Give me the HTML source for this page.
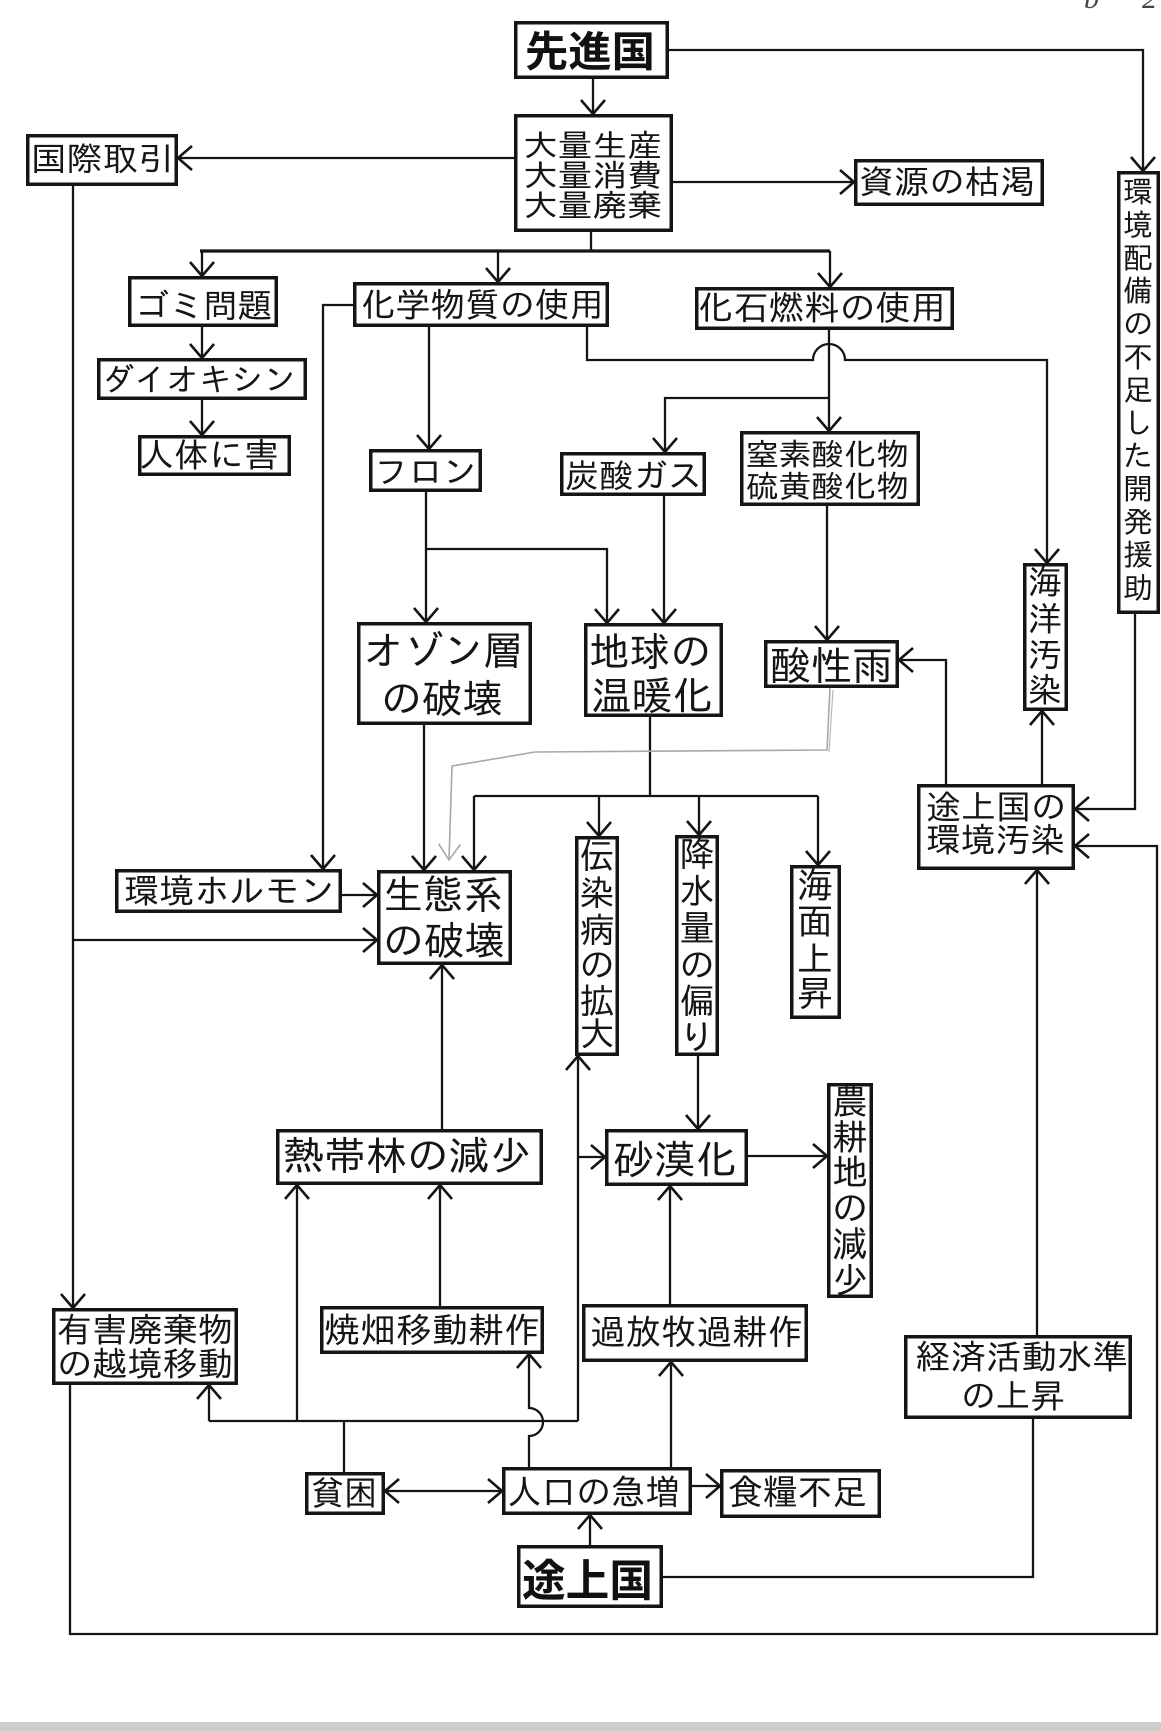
<!DOCTYPE html>
<html><head><meta charset="utf-8">
<style>
html,body{margin:0;padding:0;background:#fff;}
svg{display:block;}
.t{font-family:"IPAGothic","Noto Sans CJK JP",sans-serif;fill:#151515;dominant-baseline:central;}
.b{font-family:"Noto Sans CJK JP","IPAGothic",sans-serif;font-weight:700;fill:#111;dominant-baseline:central;}
.v{font-family:"IPAGothic","Noto Sans CJK JP",sans-serif;fill:#151515;dominant-baseline:central;text-anchor:middle;}
</style></head>
<body>
<svg width="1161" height="1731" viewBox="0 0 1161 1731" xmlns="http://www.w3.org/2000/svg">
<defs>
<marker id="a" markerUnits="userSpaceOnUse" markerWidth="40" markerHeight="40" refX="20" refY="20" orient="auto" viewBox="0 0 40 40">
<path d="M6,8 L20,20 L6,32" fill="none" stroke="#151515" stroke-width="2.6"/>
</marker>
<marker id="g" markerUnits="userSpaceOnUse" markerWidth="40" markerHeight="40" refX="20" refY="20" orient="auto" viewBox="0 0 40 40">
<path d="M4,9 L20,20 L4,31" fill="none" stroke="#a8a8a8" stroke-width="1.6"/>
</marker>
</defs>
<rect x="0" y="0" width="1161" height="1731" fill="#fff"/>

<!-- connectors -->
<g fill="none" stroke="#151515" stroke-width="2.3">
<path d="M593,79 V114" marker-end="url(#a)"/>
<path d="M669,50 H1143 V171" marker-end="url(#a)"/>
<path d="M514,158 H178" marker-end="url(#a)"/>
<path d="M673,182 H854" marker-end="url(#a)"/>
<path d="M591,232 V251"/>
<path d="M200,251 H830" stroke-width="3.2"/>
<path d="M202,251 V276" marker-end="url(#a)"/>
<path d="M498,251 V282" marker-end="url(#a)"/>
<path d="M830,251 V287" marker-end="url(#a)"/>
<path d="M202,327 V358" marker-end="url(#a)"/>
<path d="M202,400 V435" marker-end="url(#a)"/>
<path d="M353,305 H323 V869" marker-end="url(#a)"/>
<path d="M429,327 V449" marker-end="url(#a)"/>
<path d="M587,327 V360 H813 A16,16 0 0 1 845,360 H1047 V563" marker-end="url(#a)"/>
<path d="M829,330 V431" marker-end="url(#a)"/>
<path d="M829,398 H665 V452" marker-end="url(#a)"/>
<path d="M426,492 V622" marker-end="url(#a)"/>
<path d="M426,549 H607 V623" marker-end="url(#a)"/>
<path d="M664,496 V623" marker-end="url(#a)"/>
<path d="M827,506 V640" marker-end="url(#a)"/>
<path d="M73,186 V1308" marker-end="url(#a)"/>
<path d="M73,940 H377" marker-end="url(#a)"/>
<path d="M342,895 H377" marker-end="url(#a)"/>
<path d="M424,725 V870" marker-end="url(#a)"/>
<path d="M650,717 V796"/>
<path d="M474,796 H818"/>
<path d="M474,796 V870" marker-end="url(#a)"/>
<path d="M599,796 V836" marker-end="url(#a)"/>
<path d="M699,796 V835" marker-end="url(#a)"/>
<path d="M818,796 V865" marker-end="url(#a)"/>
<path d="M946,784 V660 H899" marker-end="url(#a)"/>
<path d="M1042,784 V711" marker-end="url(#a)"/>
<path d="M1135,614 V809 H1075" marker-end="url(#a)"/>
<path d="M70,1385 V1634 H1157 V846 H1075" marker-end="url(#a)"/>
<path d="M1037,1335 V870" marker-end="url(#a)"/>
<path d="M442,1129 V965" marker-end="url(#a)"/>
<path d="M440,1306 V1185" marker-end="url(#a)"/>
<path d="M748,1156 H827" marker-end="url(#a)"/>
<path d="M578,1421 V1056" marker-end="url(#a)"/>
<path d="M578,1157 H605" marker-end="url(#a)"/>
<path d="M209,1421 H578"/>
<path d="M209,1421 V1385" marker-end="url(#a)"/>
<path d="M297,1421 V1185" marker-end="url(#a)"/>
<path d="M344,1472 V1421"/>
<path d="M529,1467 V1436 A14,14 0 0 0 529,1408 V1354" marker-end="url(#a)"/>
<path d="M698,1056 V1129" marker-end="url(#a)"/>
<path d="M670,1304 V1186" marker-end="url(#a)"/>
<path d="M671,1467 V1362" marker-end="url(#a)"/>
<path d="M443,1491 H385" marker-end="url(#a)"/>
<path d="M443,1491 H502" marker-end="url(#a)"/>
<path d="M692,1486 H720" marker-end="url(#a)"/>
<path d="M590,1545 V1515" marker-end="url(#a)"/>
<path d="M663,1577 H1033 V1419"/>
</g>

<!-- gray hand-drawn line -->
<path d="M830,688 L827,750 L535,752 L452,766 L449,860" fill="none" stroke="#a8a8a8" stroke-width="1.6" marker-end="url(#g)"/>
<path d="M833,690 L829,752" fill="none" stroke="#b8b8b8" stroke-width="1.2"/>

<!-- boxes -->
<g fill="#fff" stroke="#151515" stroke-width="3.5">
<rect x="515.75" y="22.75" width="151.5" height="54.5"/>
<rect x="515.75" y="115.75" width="155.5" height="114.5"/>
<rect x="27.75" y="135.75" width="148.5" height="48.5"/>
<rect x="855.75" y="160.75" width="186.5" height="43.5"/>
<rect x="1118.75" y="172.75" width="39.5" height="439.5"/>
<rect x="129.75" y="277.75" width="146.5" height="47.5"/>
<rect x="354.75" y="283.75" width="252.5" height="41.5"/>
<rect x="696.75" y="288.75" width="255.5" height="39.5"/>
<rect x="98.75" y="359.75" width="206.5" height="38.5"/>
<rect x="139.75" y="436.75" width="149.5" height="37.5"/>
<rect x="370.75" y="450.75" width="109.5" height="39.5"/>
<rect x="561.75" y="453.75" width="142.5" height="40.5"/>
<rect x="741.75" y="432.75" width="176.5" height="71.5"/>
<rect x="1024.75" y="564.75" width="41.5" height="144.5"/>
<rect x="358.75" y="623.75" width="171.5" height="99.5"/>
<rect x="585.75" y="624.75" width="135.5" height="90.5"/>
<rect x="765.75" y="641.75" width="131.5" height="44.5"/>
<rect x="918.75" y="785.75" width="154.5" height="82.5"/>
<rect x="116.75" y="870.75" width="223.5" height="40.5"/>
<rect x="378.75" y="871.75" width="131.5" height="91.5"/>
<rect x="576.75" y="837.75" width="40.5" height="216.5"/>
<rect x="676.75" y="836.75" width="40.5" height="217.5"/>
<rect x="791.75" y="866.75" width="47.5" height="150.5"/>
<rect x="277.75" y="1130.75" width="263.5" height="52.5"/>
<rect x="606.75" y="1130.75" width="139.5" height="53.5"/>
<rect x="828.75" y="1084.75" width="42.5" height="211.5"/>
<rect x="53.75" y="1309.75" width="182.5" height="73.5"/>
<rect x="321.75" y="1307.75" width="220.5" height="44.5"/>
<rect x="583.75" y="1305.75" width="222.5" height="54.5"/>
<rect x="905.75" y="1336.75" width="224.5" height="80.5"/>
<rect x="306.75" y="1473.75" width="76.5" height="39.5"/>
<rect x="503.75" y="1468.75" width="186.5" height="44.5"/>
<rect x="721.75" y="1470.75" width="157.5" height="45.5"/>
<rect x="518.75" y="1546.75" width="142.5" height="59.5"/>
</g>

<!-- horizontal texts -->
<text class="b" x="525" y="49" font-size="42" textLength="130" lengthAdjust="spacingAndGlyphs">先進国</text>
<text class="t" x="523" y="145" font-size="31" textLength="139" lengthAdjust="spacingAndGlyphs">大量生産</text>
<text class="t" x="523" y="175" font-size="31" textLength="139" lengthAdjust="spacingAndGlyphs">大量消費</text>
<text class="t" x="523" y="205" font-size="31" textLength="139" lengthAdjust="spacingAndGlyphs">大量廃棄</text>
<text class="t" x="31" y="158" font-size="33" textLength="143" lengthAdjust="spacingAndGlyphs">国際取引</text>
<text class="t" x="859" y="181" font-size="33" textLength="176" lengthAdjust="spacingAndGlyphs">資源の枯渇</text>
<text class="t" x="135" y="305" font-size="33" textLength="137" lengthAdjust="spacingAndGlyphs">ゴミ問題</text>
<text class="t" x="361" y="305" font-size="34" textLength="243" lengthAdjust="spacingAndGlyphs">化学物質の使用</text>
<text class="t" x="698" y="308" font-size="34" textLength="248" lengthAdjust="spacingAndGlyphs">化石燃料の使用</text>
<text class="t" x="102" y="379" font-size="32" textLength="194" lengthAdjust="spacingAndGlyphs">ダイオキシン</text>
<text class="t" x="139" y="455" font-size="34" textLength="140" lengthAdjust="spacingAndGlyphs">人体に害</text>
<text class="t" x="374" y="471" font-size="33" textLength="103" lengthAdjust="spacingAndGlyphs">フロン</text>
<text class="t" x="565" y="475" font-size="33" textLength="137" lengthAdjust="spacingAndGlyphs">炭酸ガス</text>
<text class="t" x="746" y="454" font-size="31" textLength="163" lengthAdjust="spacingAndGlyphs">窒素酸化物</text>
<text class="t" x="746" y="486" font-size="31" textLength="163" lengthAdjust="spacingAndGlyphs">硫黄酸化物</text>
<text class="t" x="364" y="650" font-size="40" textLength="159" lengthAdjust="spacingAndGlyphs">オゾン層</text>
<text class="t" x="381" y="698" font-size="40" textLength="122" lengthAdjust="spacingAndGlyphs">の破壊</text>
<text class="t" x="589" y="651" font-size="40" textLength="122" lengthAdjust="spacingAndGlyphs">地球の</text>
<text class="t" x="591" y="695" font-size="40" textLength="122" lengthAdjust="spacingAndGlyphs">温暖化</text>
<text class="t" x="770" y="665" font-size="40" textLength="123" lengthAdjust="spacingAndGlyphs">酸性雨</text>
<text class="t" x="926" y="807" font-size="34" textLength="140" lengthAdjust="spacingAndGlyphs">途上国の</text>
<text class="t" x="926" y="840" font-size="34" textLength="139" lengthAdjust="spacingAndGlyphs">環境汚染</text>
<text class="t" x="124" y="891" font-size="34" textLength="211" lengthAdjust="spacingAndGlyphs">環境ホルモン</text>
<text class="t" x="383" y="894" font-size="40" textLength="120" lengthAdjust="spacingAndGlyphs">生態系</text>
<text class="t" x="383" y="940" font-size="40" textLength="122" lengthAdjust="spacingAndGlyphs">の破壊</text>
<text class="t" x="283" y="1155" font-size="40" textLength="248" lengthAdjust="spacingAndGlyphs">熱帯林の減少</text>
<text class="t" x="613" y="1159" font-size="40" textLength="124" lengthAdjust="spacingAndGlyphs">砂漠化</text>
<text class="t" x="57" y="1330" font-size="34" textLength="176" lengthAdjust="spacingAndGlyphs">有害廃棄物</text>
<text class="t" x="57" y="1364" font-size="34" textLength="176" lengthAdjust="spacingAndGlyphs">の越境移動</text>
<text class="t" x="324" y="1330" font-size="35" textLength="216" lengthAdjust="spacingAndGlyphs">焼畑移動耕作</text>
<text class="t" x="590" y="1332" font-size="35" textLength="213" lengthAdjust="spacingAndGlyphs">過放牧過耕作</text>
<text class="t" x="915" y="1357" font-size="34" textLength="213" lengthAdjust="spacingAndGlyphs">経済活動水準</text>
<text class="t" x="961" y="1396" font-size="34" textLength="104" lengthAdjust="spacingAndGlyphs">の上昇</text>
<text class="t" x="311" y="1493" font-size="34" textLength="66" lengthAdjust="spacingAndGlyphs">貧困</text>
<text class="t" x="507" y="1492" font-size="35" textLength="173" lengthAdjust="spacingAndGlyphs">人口の急増</text>
<text class="t" x="728" y="1492" font-size="35" textLength="139" lengthAdjust="spacingAndGlyphs">食糧不足</text>
<text class="b" x="522" y="1577" font-size="44" textLength="131" lengthAdjust="spacingAndGlyphs">途上国</text>

<!-- vertical texts -->
<g font-size="30">
<text class="v" x="1138" y="191.5">環</text>
<text class="v" x="1138" y="224.5">境</text>
<text class="v" x="1138" y="257.5">配</text>
<text class="v" x="1138" y="290.5">備</text>
<text class="v" x="1138" y="323.5">の</text>
<text class="v" x="1138" y="356.5">不</text>
<text class="v" x="1138" y="389.5">足</text>
<text class="v" x="1138" y="422.5">し</text>
<text class="v" x="1138" y="455.5">た</text>
<text class="v" x="1138" y="488.5">開</text>
<text class="v" x="1138" y="521.5">発</text>
<text class="v" x="1138" y="554.5">援</text>
<text class="v" x="1138" y="587.5">助</text>
</g>
<g font-size="34">
<text class="v" x="1045" y="582">海</text>
<text class="v" x="1045" y="619">洋</text>
<text class="v" x="1045" y="655">汚</text>
<text class="v" x="1045" y="690">染</text>
</g>
<g font-size="35">
<text class="v" x="597" y="856">伝</text>
<text class="v" x="597" y="893">染</text>
<text class="v" x="597" y="930">病</text>
<text class="v" x="597" y="965">の</text>
<text class="v" x="597" y="1001">拡</text>
<text class="v" x="597" y="1034">大</text>
</g>
<g font-size="35">
<text class="v" x="697" y="854">降</text>
<text class="v" x="697" y="891">水</text>
<text class="v" x="697" y="928">量</text>
<text class="v" x="697" y="965">の</text>
<text class="v" x="697" y="1001">偏</text>
<text class="v" x="697" y="1037">り</text>
</g>
<g font-size="36">
<text class="v" x="815" y="885">海</text>
<text class="v" x="815" y="921">面</text>
<text class="v" x="815" y="959">上</text>
<text class="v" x="815" y="993">昇</text>
</g>
<g font-size="36">
<text class="v" x="850" y="1101">農</text>
<text class="v" x="850" y="1137">耕</text>
<text class="v" x="850" y="1172">地</text>
<text class="v" x="850" y="1208">の</text>
<text class="v" x="850" y="1244">減</text>
<text class="v" x="850" y="1280">少</text>
</g>

<!-- handwritten mark top right -->
<text x="1084" y="8" font-family="Liberation Serif, serif" font-style="italic" font-size="30" fill="#444">b</text>
<text x="1142" y="8" font-family="Liberation Serif, serif" font-style="italic" font-size="30" fill="#444">2</text>

<!-- scan edge at bottom -->
<rect x="0" y="1722" width="1161" height="9" fill="#cdcdcd"/>
</svg>
</body></html>
